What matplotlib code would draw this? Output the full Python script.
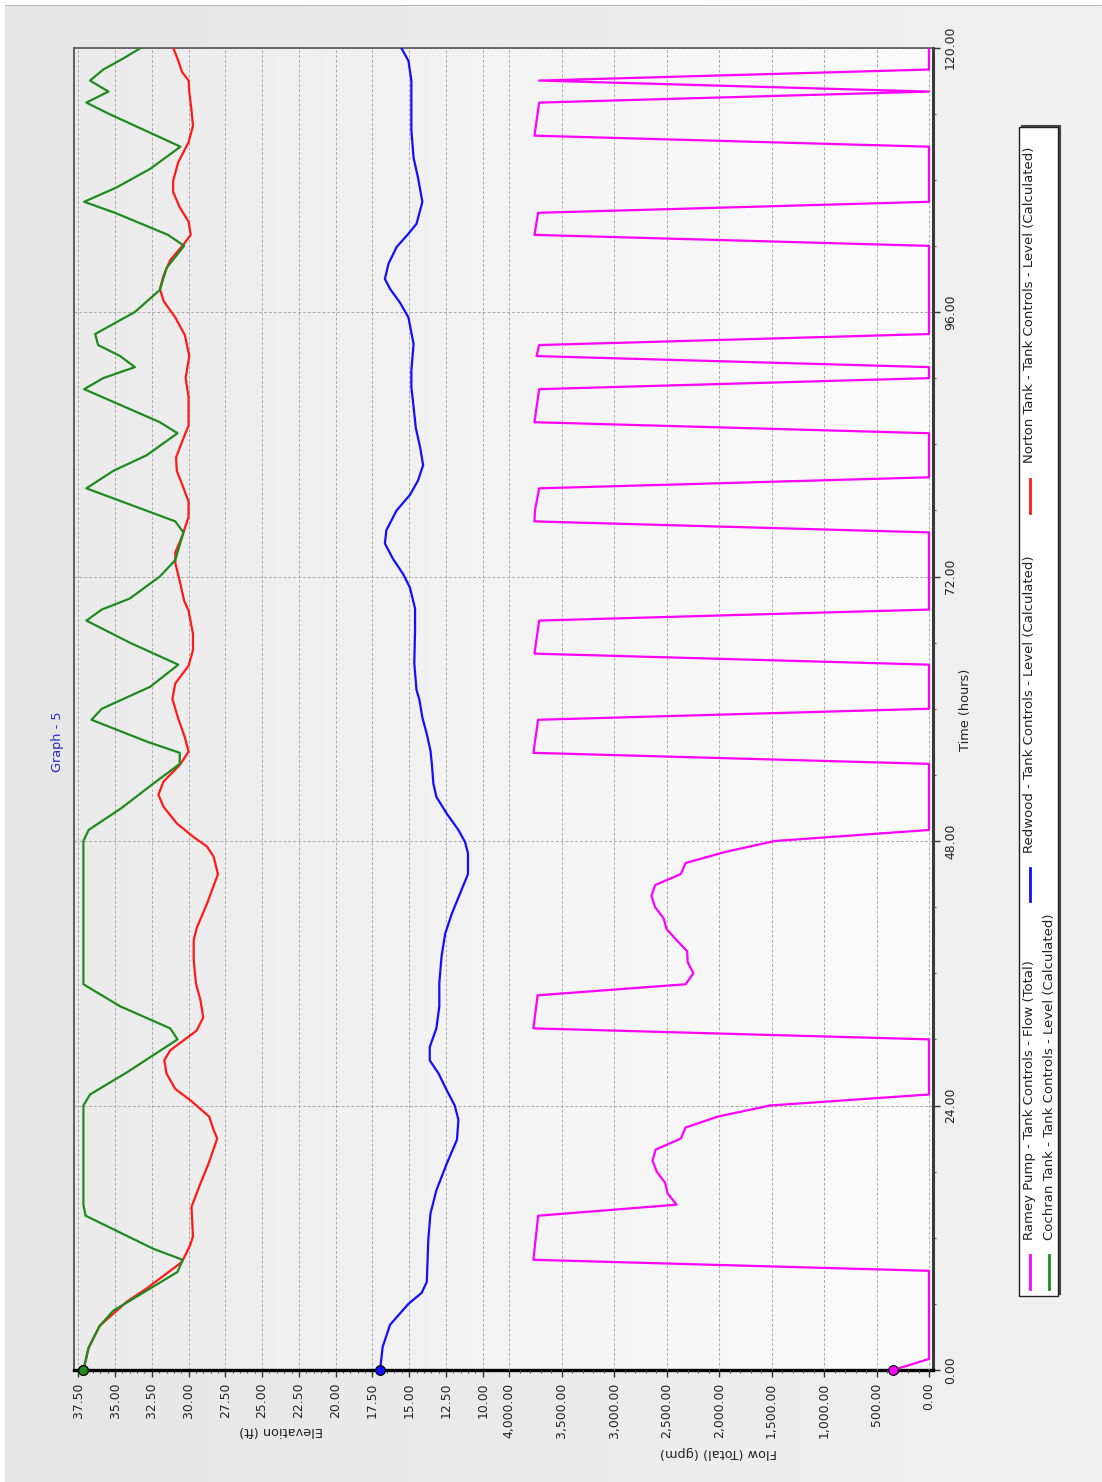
import matplotlib
matplotlib.use("Agg")
import matplotlib.pyplot as plt
import numpy as np
from matplotlib.ticker import FixedLocator, FuncFormatter
from matplotlib.lines import Line2D
from matplotlib.patches import Rectangle
from matplotlib.colors import LinearSegmentedColormap

# ---------------- data ----------------
ramey_t = [0, 1, 9, 10, 14, 15, 16, 17, 18, 19, 20, 21, 22, 23, 24, 25,
           30, 31, 34, 35, 36, 37, 38, 39, 40, 41, 42, 43, 44, 45, 46, 47, 48, 49,
           55, 56, 59, 60, 64, 65, 68, 69, 76, 77, 78, 80, 81, 85, 86, 89, 90,
           91, 92, 93, 94, 102, 103, 105, 106, 111, 112, 115, 116, 117, 118, 120]
ramey_flow = [340, 0, 0, 3770, 3725, 2405, 2490, 2515, 2595, 2635, 2605, 2365, 2320, 2010, 1515, 0,
              0, 3770, 3730, 2320, 2245, 2300, 2305, 2405, 2500, 2530, 2610, 2645, 2610, 2365, 2320, 1945, 1470, 0,
              0, 3770, 3725, 0, 0, 3760, 3715, 0, 0, 3760, 3755, 3715, 0, 0, 3760, 3715, 0,
              0, 3740, 3715, 0, 0, 3760, 3725, 0, 0, 3760, 3715, 0, 3715, 0, 0]

cochran_t = [0, 2, 4, 5.4, 7, 8.9, 10, 11, 14, 15,
             24, 25, 27, 30, 31, 33, 35,
             48, 49, 51, 53, 55, 56, 57, 59, 60,
             62, 64, 66, 68, 69, 70, 72, 73.5,
             76, 77, 80, 81.6, 83, 85, 86,
             89, 90, 91, 92, 93, 94,
             96, 98, 100, 102, 103, 105, 106,
             107.3, 109, 111, 114, 115, 116, 117, 118, 119, 120]
cochran_level = [37.15, 36.8, 36.05, 35.1, 33.1, 30.75, 30.4, 32.4, 37.0, 37.15,
                 37.15, 36.7, 34.2, 30.75, 31.25, 34.65, 37.15,
                 37.15, 36.8, 34.55, 32.6, 30.6, 30.6, 32.8, 36.6, 35.9,
                 32.6, 30.7, 34.0, 36.95, 35.9, 34.0, 31.95, 30.9,
                 30.35, 30.9, 36.95, 35.1, 32.85, 30.75, 31.95,
                 37.1, 35.8, 33.65, 34.65, 36.15, 36.35,
                 33.65, 31.95, 31.5, 30.3, 31.4, 35.0, 37.1,
                 34.9, 32.6, 30.55, 35.45, 36.95, 35.45, 36.7, 35.8, 34.45, 33.2]

norton_t = [0, 2, 4, 6.2, 7.4, 9.8, 11.3, 12.1, 14.8, 16.9,
            18.7, 21, 21.8, 23, 24.5, 25.5, 26.9, 28.1, 29, 29.9,
            30.8, 32, 33.6, 35.1, 37.2, 39, 40.1, 42.3, 45, 46.6,
            47.5, 48.4, 49.6, 51.1, 52.2, 53.4, 54.9, 56.1, 57.4, 59.1,
            60.9, 62.3, 63.9, 65.3, 66.8, 68.9, 69.8, 71.6, 73.2, 74.2,
            75.6, 77.4, 78.8, 80.4, 81.6, 82.8, 84.2, 85.7, 88.3, 90,
            92, 93.9, 95.5, 97, 98.1, 99.3, 100.7, 102.2, 103, 104.2,
            105.5, 106.9, 107.9, 109.6, 111.4, 112.9, 114.3, 116, 117, 117.8,
            118.8, 120]
norton_level = [37.15, 36.8, 36.05, 34.2, 32.85, 30.45, 29.9, 29.7, 29.8, 29.2,
                28.65, 28.05, 28.3, 28.6, 29.9, 30.9, 31.5, 31.65, 31.25, 30.35,
                29.45, 29.0, 29.2, 29.5, 29.65, 29.65, 29.45, 28.75, 28.0, 28.3,
                28.75, 29.7, 30.8, 31.7, 32.05, 31.7, 30.6, 30.0, 30.25, 30.7,
                31.1, 30.9, 30.0, 29.7, 29.7, 30.0, 30.3, 30.6, 30.9, 30.9,
                30.45, 30.0, 30.0, 30.45, 30.8, 30.85, 30.45, 30.0, 30.0, 30.2,
                29.95, 30.25, 30.9, 31.7, 31.95, 31.7, 31.25, 30.3, 29.85, 30.0,
                30.6, 31.05, 31.05, 30.7, 30.0, 29.7, 29.8, 29.95, 30.0, 30.45,
                30.7, 31.05]

redwood_t = [0, 2.1, 4.1, 6, 7, 8, 11.8, 14.2, 16.3, 18.7,
             20.9, 22.7, 24, 25.4, 26.9, 28.1, 29.3, 31, 33, 35.1,
             37.5, 39.6, 41.4, 43.2, 45, 46.9, 47.9, 49, 50.5, 52,
             53.2, 54.9, 56.2, 57.7, 59.2, 60.8, 61.7, 64.1, 67.1, 69.1,
             71, 72.2, 73.6, 75, 76.2, 78, 79.4, 80.7, 82.1, 83.7,
             85.5, 87.4, 89.2, 90.7, 93.1, 95.5, 96.8, 98.1, 99, 100.4,
             101.9, 103.1, 104, 106, 108.2, 110, 112.5, 117, 117.9, 118.8,
             120]
redwood_level = [16.98, 16.8, 16.3, 15.05, 14.15, 13.8, 13.7, 13.55, 13.15, 12.45,
                 11.75, 11.65, 11.9, 12.45, 13.0, 13.6, 13.6, 13.15, 12.95, 12.95,
                 12.8, 12.55, 12.1, 11.55, 11.0, 11.0, 11.2, 11.65, 12.45, 13.15,
                 13.35, 13.45, 13.55, 13.8, 14.1, 14.3, 14.5, 14.65, 14.6, 14.6,
                 14.95, 15.4, 16.1, 16.65, 16.55, 15.85, 14.95, 14.4, 14.05, 14.25,
                 14.55, 14.7, 14.85, 14.85, 14.7, 15.05, 15.6, 16.3, 16.65, 16.4,
                 15.85, 15.05, 14.5, 14.1, 14.4, 14.7, 14.85, 14.85, 14.95, 15.05,
                 15.55]

elev_ticks = [37.5, 35.0, 32.5, 30.0, 27.5, 25.0, 22.5, 20.0, 17.5, 15.0, 12.5, 10.0]
flow_ticks = [4000, 3500, 3000, 2500, 2000, 1500, 1000, 500, 0]
time_ticks = [0, 24, 48, 72, 96, 120]

legend_labels = ["Ramey Pump - Tank Controls - Flow (Total)",
                 "Redwood - Tank Controls - Level (Calculated)",
                 "Norton Tank - Tank Controls - Level (Calculated)",
                 "Cochran Tank - Tank Controls - Level (Calculated)"]

C_GREEN = "#1f8a1f"
C_RED = "#ff1a1a"
C_BLUE = "#1010ff"
C_MAG = "#ff00ff"

# ---------------- layout ----------------
W, H = 1102, 1482
fig = plt.figure(figsize=(W / 100, H / 100), dpi=100)
fig.patch.set_facecolor("white")


def fx(px):
    return px / W


def fy(py):
    return 1 - py / H


# outer light-gray panel with gradient (white margin at top and left)
outer = fig.add_axes([fx(5), 0, 1 - fx(5), fy(5)], zorder=-5)
outer.imshow(np.linspace(0, 1, 256).reshape(1, -1), aspect="auto", extent=(0, 1, 0, 1),
             cmap=LinearSegmentedColormap.from_list("o", ["#e6e6e6", "#f1f1f1"]))
outer.set_xlim(0, 1)
outer.set_ylim(0, 1)
outer.axis("off")
fig.add_artist(Line2D([fx(5), 1], [fy(5), fy(5)], transform=fig.transFigure,
                      color="#b8b8b8", lw=0.8))

L, R, T, B = 74, 933, 47.5, 1370
pos = [fx(L), fy(B), (R - L) / W, (B - T) / H]
bg = fig.add_axes(pos, zorder=0)
bg.imshow(np.linspace(0, 1, 256).reshape(1, -1), aspect="auto", extent=(0, 1, 0, 1),
          cmap=LinearSegmentedColormap.from_list("g", ["#ebebeb", "#fcfcfc"]))
bg.set_xlim(0, 1)
bg.set_ylim(0, 1)
bg.axis("off")

ax = fig.add_axes(pos, zorder=1)
ax.patch.set_visible(False)
ax2 = ax.twiny()
ax2.patch.set_visible(False)

# elevation: 37.5 at x=78.3 px, 14.705 px per ft
ax.set_xlim(37.79, -20.62)
# flow: 0 at x=929, 4000 at x=509.3
ax2.set_xlim(8148, -38)
ax.set_ylim(0, 120)

grid_kw = dict(color="#aaaaaa", linestyle=(0, (3, 2)), linewidth=0.7)
ax.set_axisbelow(True)
ax2.set_axisbelow(True)
ax.grid(True, which="major", axis="both", **grid_kw)
ax2.grid(True, which="major", axis="x", **grid_kw)

lw = 1.6
ax.plot(norton_level, norton_t, color=C_RED, lw=lw, zorder=3)
ax.plot(cochran_level, cochran_t, color=C_GREEN, lw=lw, zorder=4)
ax.plot(redwood_level, redwood_t, color=C_BLUE, lw=lw, zorder=3)
ax2.plot(ramey_flow, ramey_t, color=C_MAG, lw=lw, zorder=3)

mk = dict(marker="o", ms=7, mec="black", mew=0.8, clip_on=False, zorder=6, ls="none")
ax.plot(norton_level[0], norton_t[0], mfc=C_RED, **mk)
ax.plot(cochran_level[0], cochran_t[0], mfc=C_GREEN, **mk)
ax.plot(redwood_level[0], redwood_t[0], mfc=C_BLUE, **mk)
ax2.plot(ramey_flow[0], ramey_t[0], mfc=C_MAG, **mk)

# ticks
TICKC = "#222222"
FS = 8.9
ax.xaxis.set_major_locator(FixedLocator(elev_ticks))
ax.xaxis.set_major_formatter(FuncFormatter(lambda v, p: f"{v:.2f}"))
ax.xaxis.set_minor_locator(FixedLocator(np.arange(10, 37.51, 0.5)))
ax2.xaxis.set_ticks_position("bottom")
ax2.xaxis.set_label_position("bottom")
ax2.xaxis.set_major_locator(FixedLocator(flow_ticks))
ax2.xaxis.set_major_formatter(FuncFormatter(lambda v, p: f"{v:,.2f}"))
ax2.xaxis.set_minor_locator(FixedLocator(np.arange(0, 4001, 100)))
for a in (ax, ax2):
    a.tick_params(axis="x", which="major", direction="out", length=5, width=1,
                  labelsize=FS, labelrotation=90, pad=4, labelcolor=TICKC, color="#333333")
    a.tick_params(axis="x", which="minor", direction="out", length=2.5, width=0.8, color="#555555")

ax.yaxis.tick_right()
ax.yaxis.set_label_position("right")
ax.yaxis.set_major_locator(FixedLocator(time_ticks))
ax.yaxis.set_major_formatter(FuncFormatter(lambda v, p: f"{v:.2f}"))
ax.yaxis.set_minor_locator(FixedLocator(np.arange(0, 121, 6)))
ax.tick_params(axis="y", which="major", direction="out", length=5, width=1,
               labelsize=FS, labelrotation=90, pad=3, labelcolor=TICKC, color="#333333")
ax.tick_params(axis="y", which="minor", direction="out", length=2.5, width=0.8, color="#555555")
for t in ax.yaxis.get_major_ticks():
    t.label2.set_va("center")

for s in ax2.spines.values():
    s.set_visible(False)
ax.spines["bottom"].set_linewidth(2.4)
ax.spines["bottom"].set_color("black")
ax.spines["right"].set_linewidth(2.2)
ax.spines["right"].set_color("#3a3a3a")
ax.spines["top"].set_linewidth(1.2)
ax.spines["top"].set_color("#555555")
ax.spines["left"].set_linewidth(1.2)
ax.spines["left"].set_color("#444444")

# axis labels
ax.set_xlabel("Elevation (ft)", rotation=180, fontsize=9.3, color=TICKC)
ax.xaxis.set_label_coords((281 - L) / (R - L), -(1431 - B) / (B - T))
ax.xaxis.label.set_va("center")
ax2.set_xlabel("Flow (Total) (gpm)", rotation=180, fontsize=9.3, color=TICKC)
ax2.xaxis.set_label_coords((718 - L) / (R - L), -(1453 - B) / (B - T))
ax2.xaxis.label.set_va("center")
ax.set_ylabel("Time (hours)", rotation=90, fontsize=9.3, color=TICKC)
ax.yaxis.set_label_coords((966 - L) / (R - L), (B - 710) / (B - T))
ax.yaxis.label.set_va("center")

fig.text(fx(57), fy(742), "Graph - 5", rotation=90, ha="center", va="center",
         color="#2a2ab8", fontsize=9.3)

# ---------------- legend (rotated, drawn manually) ----------------
bx0, bx1, by0, by1 = 1019, 1058, 127, 1296
fig.add_artist(Rectangle((fx(bx0 + 2), fy(by1 - 2)), (bx1 - bx0) / W, (by1 - by0) / H,
                         transform=fig.transFigure, facecolor="#444444", edgecolor="#444444", lw=0.8))
fig.add_artist(Rectangle((fx(bx0), fy(by1)), (bx1 - bx0) / W, (by1 - by0) / H,
                         transform=fig.transFigure, facecolor="white", edgecolor="#222222", lw=1))
entries = [
    (1030, 1289, 1255, 1240, C_MAG, legend_labels[0]),
    (1030, 901, 868, 853, C_BLUE, legend_labels[1]),
    (1030, 513, 479, 463, C_RED, legend_labels[2]),
    (1049, 1289, 1255, 1240, C_GREEN, legend_labels[3]),
]
for cx, ly0, ly1, ty, col, lab in entries:
    fig.add_artist(Line2D([fx(cx), fx(cx)], [fy(ly0), fy(ly1)], transform=fig.transFigure,
                          color=col, lw=2))
    fig.text(fx(cx), fy(ty), lab, rotation=90, ha="center", va="bottom",
             fontsize=9.5, color="#222222")

fig.savefig("out.png", dpi=100, facecolor=fig.get_facecolor())
